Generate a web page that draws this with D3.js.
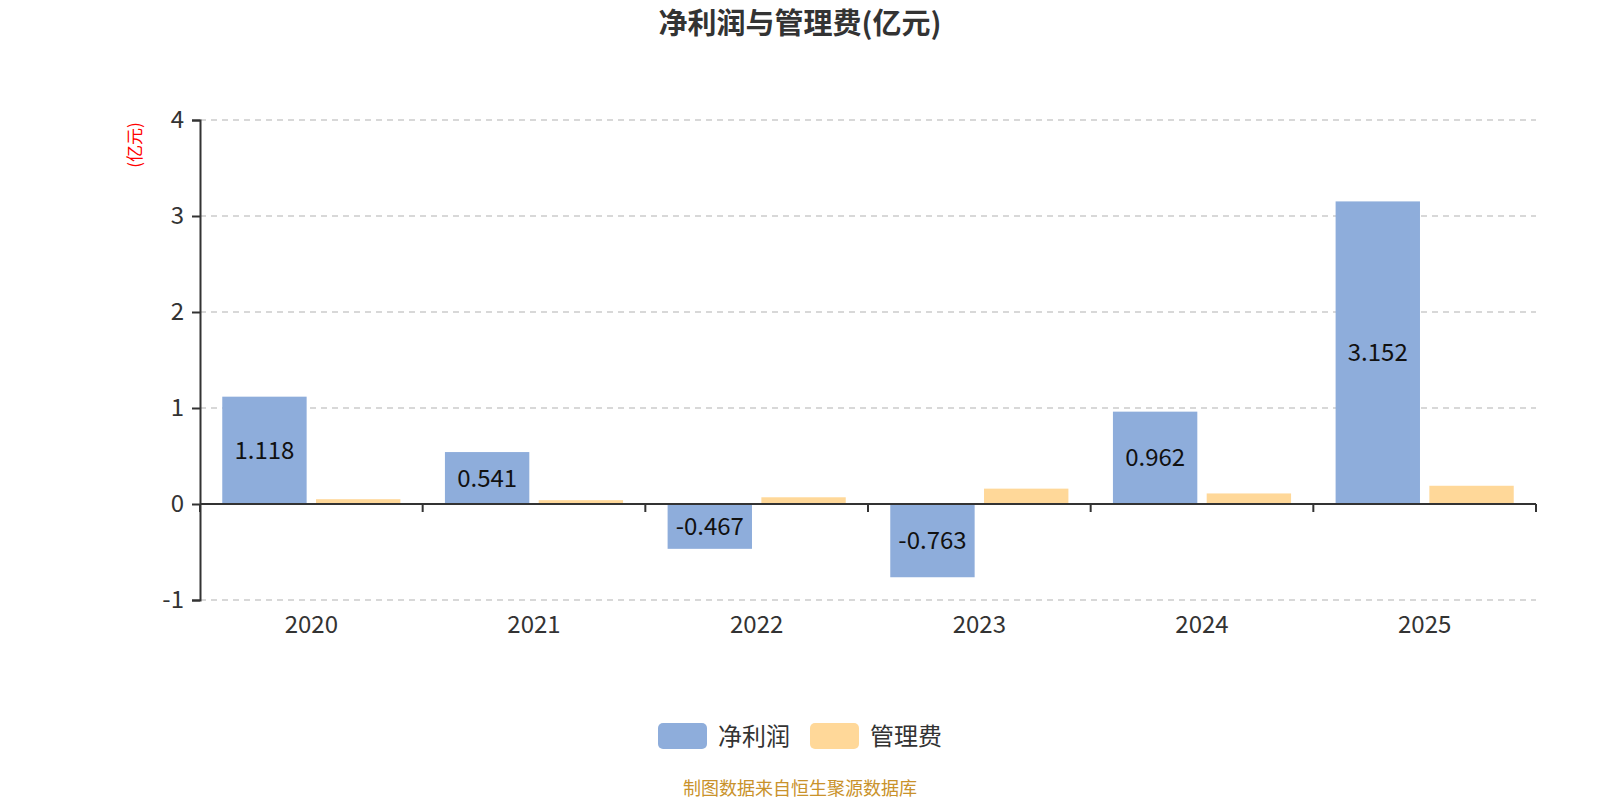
<!DOCTYPE html>
<html>
<head>
<meta charset="utf-8">
<script src="https://cdn.jsdelivr.net/npm/d3@7/dist/d3.min.js"></script>
<style>
  body { margin: 0; background: #fff; }
  svg { display: block; font-family: "Noto Sans CJK SC", "Noto Sans", sans-serif; }
</style>
</head>
<body>
<svg id="chart" width="1600" height="800"></svg>
<script>
// data
var years = ["2020", "2021", "2022", "2023", "2024", "2025"];
var seriesNames = ["净利润", "管理费"];
var netProfit = [1.118, 0.541, -0.467, -0.763, 0.962, 3.152];
var adminFee = [0.05, 0.04, 0.07, 0.16, 0.11, 0.19];
var yTicks = [-1, 0, 1, 2, 3, 4];
var colors = ["#8EADDB", "#FFD899"];

var svg = d3.select("#chart");
var plotLeft = 200, plotRight = 1536, plotTop = 120, plotBottom = 600;

var x0 = d3.scaleBand().domain(years).range([plotLeft, plotRight]).padding(0);
var x1 = d3.scaleBand().domain(seriesNames)
    .range([x0.bandwidth() * 0.1, x0.bandwidth() * 0.9])
    .paddingInner(0.1);
var y = d3.scaleLinear().domain([-1, 4]).range([plotBottom, plotTop]);

// title
svg.append("text")
    .attr("x", 800).attr("y", 34)
    .attr("text-anchor", "middle")
    .style("font-size", "29px").style("font-weight", "bold").style("fill", "#333")
    .text("净利润与管理费(亿元)");

// unit label
svg.append("text")
    .attr("transform", "translate(141,145)rotate(-90)")
    .attr("text-anchor", "middle")
    .style("font-size", "17px").style("fill", "#ff0000")
    .text("(亿元)");

// grid lines
svg.append("g").selectAll("line")
    .data(yTicks.filter(function(d) { return d !== 0; }))
  .enter().append("line")
    .attr("x1", plotLeft).attr("x2", plotRight)
    .attr("y1", function(d) { return y(d); })
    .attr("y2", function(d) { return y(d); })
    .attr("stroke", "#ccc").attr("stroke-width", 1.5)
    .attr("stroke-dasharray", "6,5");

// y axis
var yAxis = svg.append("g")
    .attr("transform", "translate(" + plotLeft + ",0)")
    .call(d3.axisLeft(y).tickValues(yTicks).tickSize(8).tickPadding(8)
      .tickFormat(function(d) { return String(d); }));
yAxis.select(".domain").attr("stroke", "#333").attr("stroke-width", 2);
yAxis.selectAll(".tick line").attr("stroke", "#333").attr("stroke-width", 2);
yAxis.selectAll(".tick text")
    .style("font-size", "24px").style("fill", "#333")
    .style("font-family", "'Noto Sans CJK SC', sans-serif");

// bars
var rows = years.map(function(yr, i) {
  return { year: yr, values: [netProfit[i], adminFee[i]] };
});

var group = svg.append("g").selectAll(".year")
    .data(rows)
  .enter().append("g")
    .attr("transform", function(d) { return "translate(" + x0(d.year) + ",0)"; });

group.selectAll("rect")
    .data(function(d) { return d.values.map(function(v, k) { return { name: seriesNames[k], v: v, k: k }; }); })
  .enter().append("rect")
    .attr("x", function(d) { return x1(d.name); })
    .attr("width", x1.bandwidth())
    .attr("y", function(d) { return y(Math.max(0, d.v)); })
    .attr("height", function(d) { return Math.abs(y(d.v) - y(0)); })
    .attr("fill", function(d) { return colors[d.k]; });

group.append("text")
    .attr("x", x1(seriesNames[0]) + x1.bandwidth() / 2)
    .attr("y", function(d) { return (y(d.values[0]) + y(0)) / 2; })
    .attr("dy", "0.36em")
    .attr("text-anchor", "middle")
    .style("font-size", "24px").style("fill", "#111")
    .text(function(d) { return d.values[0]; });

// x axis at zero
var xAxis = svg.append("g")
    .attr("transform", "translate(0," + y(0) + ")");
xAxis.append("line")
    .attr("x1", plotLeft).attr("x2", plotRight)
    .attr("stroke", "#333").attr("stroke-width", 2);
xAxis.selectAll(".tk")
    .data(d3.range(years.length + 1))
  .enter().append("line")
    .attr("x1", function(i) { return plotLeft + i * x0.step(); })
    .attr("x2", function(i) { return plotLeft + i * x0.step(); })
    .attr("y1", 0).attr("y2", 8)
    .attr("stroke", "#333").attr("stroke-width", 2);

svg.append("g").selectAll("text")
    .data(years)
  .enter().append("text")
    .attr("x", function(d) { return x0(d) + x0.bandwidth() / 2; })
    .attr("y", 633)
    .attr("text-anchor", "middle")
    .style("font-size", "24px").style("fill", "#333")
    .text(function(d) { return d; });

// legend
var legendX = [658, 810];
var legend = svg.append("g").selectAll("g")
    .data(seriesNames)
  .enter().append("g")
    .attr("transform", function(d, i) { return "translate(" + legendX[i] + ",723)"; });
legend.append("rect")
    .attr("width", 49).attr("height", 26).attr("rx", 5)
    .attr("fill", function(d, i) { return colors[i]; });
legend.append("text")
    .attr("x", 60).attr("y", 13).attr("dy", "0.36em")
    .style("font-size", "24px").style("fill", "#333")
    .text(function(d) { return d; });

// source note
svg.append("text")
    .attr("x", 800).attr("y", 795)
    .attr("text-anchor", "middle")
    .style("font-size", "18px").style("fill", "#C9922B")
    .text("制图数据来自恒生聚源数据库");
</script>
</body>
</html>
